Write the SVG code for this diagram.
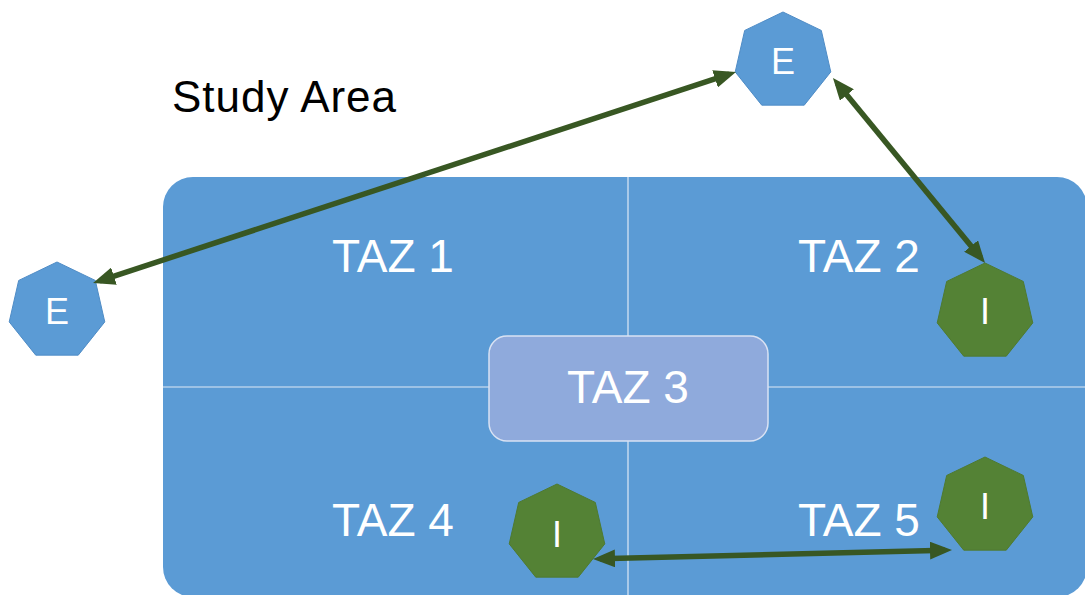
<svg xmlns="http://www.w3.org/2000/svg" xmlns:xlink="http://www.w3.org/1999/xlink" width="1085" height="595" viewBox="0 0 1085 595">
<style>
.lbl{font-family:"Liberation Sans",Arial,sans-serif;fill:#fff;text-anchor:middle}
.taz{font-size:46px}
.nd{font-size:36px}
.div{stroke:#dfe9f6;stroke-width:1.2}
.conn{stroke:#385723;stroke-width:5.5;fill:none;marker-start:url(#ah);marker-end:url(#ah)}
.blue{fill:#5b9bd5;stroke:#4f8cc6;stroke-width:1}
.green{fill:#548235;stroke:#4e7a31;stroke-width:1}
</style>
<defs>
<polygon id="hept" points="0,-49 38.31,-30.55 47.77,10.9 21.26,44.15 -21.26,44.15 -47.77,10.9 -38.31,-30.55"/>
<marker id="ah" markerUnits="userSpaceOnUse" viewBox="0 0 22 18" markerWidth="22" markerHeight="18" refX="15" refY="9" orient="auto-start-reverse">
<path d="M0,0 L22,9 L0,18 z" fill="#385723"/>
</marker>
</defs>
<rect width="1085" height="595" fill="#fff"/>
<text x="172" y="112" font-family="'Liberation Sans',Arial,sans-serif" font-size="44" fill="#000" textLength="224">Study Area</text>
<g id="study-area">
<rect x="163" y="177" width="924" height="420" rx="30" fill="#5b9bd5"/>
<line class="div" x1="628" y1="177" x2="628" y2="597"/>
<line class="div" x1="163" y1="387" x2="1087" y2="387"/>
</g>
<g id="taz1"><text class="lbl taz" x="393" y="272">TAZ 1</text></g>
<g id="taz2"><text class="lbl taz" x="859" y="272">TAZ 2</text></g>
<g id="taz4"><text class="lbl taz" x="393" y="536">TAZ 4</text></g>
<g id="taz5"><text class="lbl taz" x="859" y="536">TAZ 5</text></g>
<g id="taz3">
<rect x="489" y="336" width="279" height="105" rx="18" fill="#8faadc" stroke="#d9e2f3" stroke-width="1.5"/>
<text class="lbl taz" x="628" y="403">TAZ 3</text>
</g>
<g id="e-left"><use xlink:href="#hept" class="blue" transform="translate(57,311)"/><text class="lbl nd" x="57" y="324">E</text></g>
<g id="e-top"><use xlink:href="#hept" class="blue" transform="translate(783,61)"/><text class="lbl nd" x="783" y="74">E</text></g>
<g id="i-taz2"><use xlink:href="#hept" class="green" transform="translate(985,312)"/><text class="lbl nd" x="985" y="324">I</text></g>
<g id="i-taz4"><use xlink:href="#hept" class="green" transform="translate(557,533)"/><text class="lbl nd" x="557" y="547">I</text></g>
<g id="i-taz5"><use xlink:href="#hept" class="green" transform="translate(985,506)"/><text class="lbl nd" x="985" y="519">I</text></g>
<g id="connectors">
<line class="conn" x1="99.7" y1="280.8" x2="729.3" y2="74.2"/>
<line class="conn" x1="837.4" y1="83.4" x2="980.6" y2="257.6"/>
<line class="conn" x1="600" y1="558.8" x2="945" y2="550.2"/>
</g>
</svg>
